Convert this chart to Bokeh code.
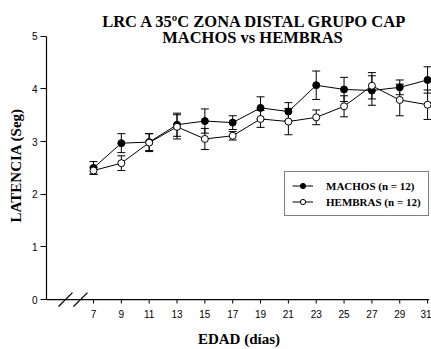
from bokeh.plotting import figure
from bokeh.models import (ColumnDataSource, Whisker, TeeHead, Legend, LegendItem,
                          FixedTicker, Range1d, Label)
from bokeh.embed import file_html
from bokeh.resources import INLINE

# ---- data ----
dias = [7, 9, 11, 13, 15, 17, 19, 21, 23, 25, 27, 29, 31]
machos = [2.50, 2.97, 2.99, 3.32, 3.39, 3.36, 3.64, 3.57, 4.07, 3.99, 3.97, 4.03, 4.17]
machos_err = [0.12, 0.18, 0.16, 0.22, 0.23, 0.13, 0.21, 0.17, 0.27, 0.23, 0.28, 0.14, 0.25]
hembras = [2.45, 2.59, 2.98, 3.28, 3.05, 3.11, 3.43, 3.38, 3.46, 3.67, 4.06, 3.79, 3.70]
hembras_err = [0.07, 0.14, 0.17, 0.23, 0.20, 0.08, 0.16, 0.25, 0.14, 0.20, 0.25, 0.30, 0.28]
y_ticks = [0, 1, 2, 3, 4, 5]
title1 = "LRC A 35ºC ZONA DISTAL GRUPO CAP"
title2 = "MACHOS vs HEMBRAS"
x_title = "EDAD (días)"
y_title = "LATENCIA (Seg)"
label_m = "MACHOS (n = 12)"
label_h = "HEMBRAS (n = 12)"

# ---- geometry (pixel layout) ----
W, H = 431, 349
FL, FB = 46, 40          # frame left border, bottom border
FW, FH = W - FL, H - FB  # frame size
KX = 13.92               # px per day
KY = 53.0                # px per unit
X0 = 7 - (93 - FL) / KX  # x at frame left
AX_Y = 301               # pixel row of y = 0
y_start = -(FH - AX_Y) / KY
y_end = AX_Y / KY

def px2x(px):
    return X0 + (px - FL) / KX

def py2y(py):
    return (AX_Y - py) / KY

p = figure(width=W, height=H, output_backend="svg", toolbar_location=None,
           x_range=Range1d(X0, X0 + FW / KX), y_range=Range1d(y_start, y_end),
           min_border_left=FL, min_border_right=0, min_border_top=0,
           min_border_bottom=FB)
p.title.visible = False
p.outline_line_color = None
p.xgrid.visible = False
p.ygrid.visible = False
p.background_fill_color = "white"
p.border_fill_color = "white"

SERIF = "Liberation Serif"
SANS = "Liberation Sans"

# x axis: labels from the axis, line and ticks drawn at y = 0
xa = p.xaxis[0]
xa.ticker = FixedTicker(ticks=dias)
xa.minor_tick_line_color = None
xa.major_tick_line_color = None
xa.axis_line_color = None
xa.major_tick_out = 0
xa.major_tick_in = 0
xa.major_label_standoff = 2
xa.major_label_text_font = SANS
xa.major_label_text_font_size = "10px"
xa.major_label_text_color = "black"
xa.axis_label = x_title
xa.axis_label_text_font = SERIF
xa.axis_label_text_font_style = "bold"
xa.axis_label_text_font_size = "15px"
xa.axis_label_standoff = 10
xa.axis_label_text_color = "black"

ya = p.yaxis[0]
ya.bounds = (0, 5)
ya.ticker = FixedTicker(ticks=y_ticks)
ya.minor_tick_line_color = None
ya.major_tick_out = 6
ya.major_tick_in = 0
ya.major_label_standoff = 3
ya.major_label_text_font = SANS
ya.major_label_text_font_size = "10px"
ya.major_label_text_color = "black"
ya.axis_line_color = "black"
ya.axis_line_width = 1.2
# trailing no-break spaces move the centred title down onto the 0-5 span
ya.axis_label = y_title + "\u00a0" * 6
ya.axis_label_text_font = SERIF
ya.axis_label_text_font_style = "bold"
ya.axis_label_text_font_size = "15px"
ya.axis_label_standoff = 5
ya.axis_label_text_color = "black"

# x axis line at y = 0, tick marks, and axis break marks
p.segment(x0=[X0], y0=[0], x1=[px2x(428.5)], y1=[0],
          line_color="black", line_width=1.2)
p.segment(x0=dias, y0=[0] * len(dias), x1=dias, y1=[py2y(305)] * len(dias),
          line_color="black", line_width=1)
p.segment(x0=[px2x(58), px2x(73)], y0=[py2y(308)] * 2,
          x1=[px2x(72), px2x(87)], y1=[py2y(294)] * 2,
          line_color="black", line_width=1.2)

# sources
src_m = ColumnDataSource(dict(x=dias, y=machos,
                              lo=[v - e for v, e in zip(machos, machos_err)],
                              hi=[v + e for v, e in zip(machos, machos_err)]))
src_h = ColumnDataSource(dict(x=dias, y=hembras,
                              lo=[v - e for v, e in zip(hembras, hembras_err)],
                              hi=[v + e for v, e in zip(hembras, hembras_err)]))

for src in (src_m, src_h):
    w = Whisker(source=src, base="x", upper="hi", lower="lo",
                line_color="black", line_width=1,
                upper_head=TeeHead(size=8, line_color="black", line_width=1),
                lower_head=TeeHead(size=8, line_color="black", line_width=1))
    p.add_layout(w)

lm = p.line("x", "y", source=src_m, line_color="black", line_width=1)
sm = p.scatter("x", "y", source=src_m, size=7, marker="circle",
               fill_color="black", line_color="black", line_width=1)
lh = p.line("x", "y", source=src_h, line_color="black", line_width=1)
sh = p.scatter("x", "y", source=src_h, size=7, marker="circle",
               fill_color="white", line_color="black", line_width=1)

legend = Legend(items=[LegendItem(label=label_m, renderers=[lm, sm]),
                       LegendItem(label=label_h, renderers=[lh, sh])],
                location=(284 - FL, FH - 218), orientation="vertical",
                padding=7, spacing=3, margin=0, glyph_width=21, glyph_height=13,
                label_height=13, label_standoff=13,
                label_text_font=SERIF, label_text_font_style="bold",
                label_text_font_size="11px", label_text_color="black",
                border_line_color="black", border_line_width=1,
                background_fill_color="white", background_fill_alpha=1)
p.add_layout(legend, "center")

# titles
for txt, cx, by in ((title1, 255, 21), (title2, 252, 37.5)):
    p.add_layout(Label(x=px2x(cx), y=py2y(by), text=txt, text_align="center",
                       text_baseline="alphabetic", text_font=SERIF,
                       text_font_style="bold", text_font_size="16.5px",
                       text_color="black"))

open("out.html", "w").write(file_html(p, INLINE))
